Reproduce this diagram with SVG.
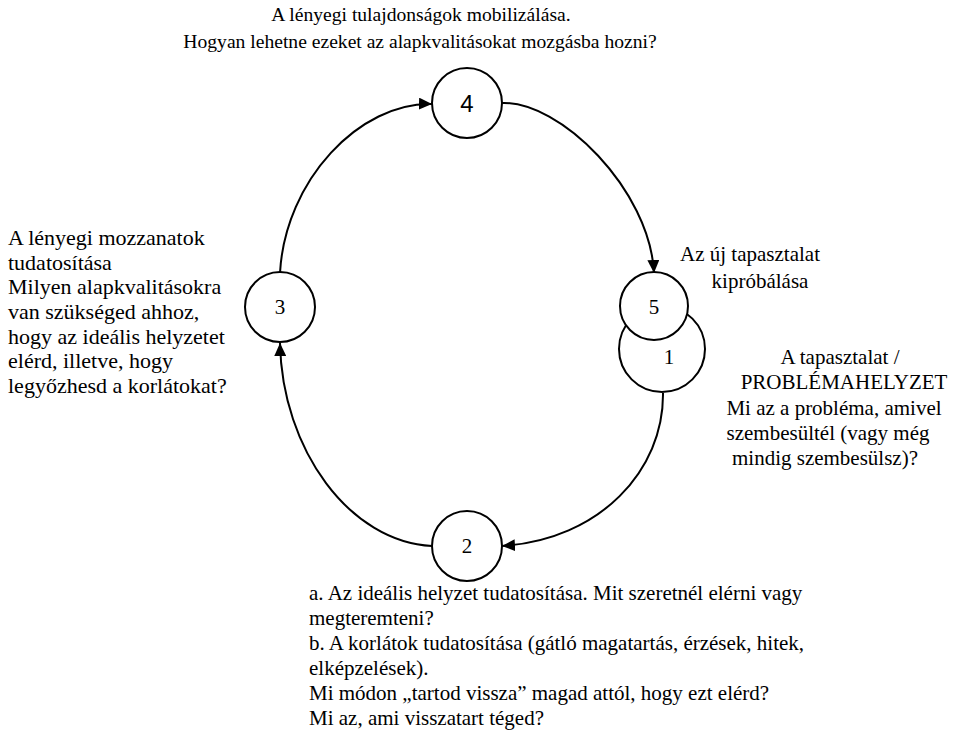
<svg xmlns="http://www.w3.org/2000/svg" width="953" height="736" viewBox="0 0 953 736">
<style>
text{font-family:'Liberation Serif','DejaVu Serif',serif;font-size:21px;fill:#000}
.c{text-anchor:middle}
.top{font-size:19.6px}
.lft{font-size:22px}
.rgt{font-size:21px}
.bot{font-size:21px}
.n{fill:#fff;stroke:#000;stroke-width:2}
.e{fill:none;stroke:#000;stroke-width:2}
.d{font-size:21px;text-anchor:middle}
</style>
<defs>
<marker id="ah" markerUnits="userSpaceOnUse" markerWidth="14" markerHeight="12" refX="13" refY="6" orient="auto">
<path d="M0,0 L13,6 L0,12 Z" fill="#000"/>
</marker>
</defs>
<rect width="953" height="736" fill="#fff"/>
<g id="connectors">
<path class="e" d="M501,103 C560,100 650,190 654,273" marker-end="url(#ah)"/>
<path class="e" d="M280,273 C285,180 360,102 432,104" marker-end="url(#ah)"/>
<path class="e" d="M432,546 C350,542 282,450 280,343" marker-end="url(#ah)"/>
<path class="e" d="M663,393 C664,470 600,540 502,546" marker-end="url(#ah)"/>
</g>
<g id="node1">
<circle class="n" cx="662" cy="349" r="43"/>
<text class="d" x="669" y="364">1</text>
</g>
<g id="node5">
<circle class="n" cx="654" cy="306" r="34"/>
<text class="d" x="654" y="314">5</text>
</g>
<g id="node4">
<circle class="n" cx="467" cy="103" r="35"/>
<text x="467" y="112" style="font-family:'Liberation Sans',Arial,sans-serif;font-size:24px;text-anchor:middle">4</text>
</g>
<g id="node3">
<circle class="n" cx="280" cy="307" r="35"/>
<text class="d" x="280" y="314">3</text>
</g>
<g id="node2">
<circle class="n" cx="467" cy="546" r="35"/>
<text class="d" x="467" y="553">2</text>
</g>
<g id="label4">
<text class="c top" x="421" y="21">A lényegi tulajdonságok mobilizálása.</text>
<text class="c top" x="420" y="48">Hogyan lehetne ezeket az alapkvalitásokat mozgásba hozni?</text>
</g>
<g id="label3">
<text class="lft" x="8" y="245">A lényegi mozzanatok</text>
<text class="lft" x="8" y="270">tudatosítása</text>
<text class="lft" x="8" y="294">Milyen alapkvalitásokra</text>
<text class="lft" x="8" y="319">van szükséged ahhoz,</text>
<text class="lft" x="8" y="344">hogy az ideális helyzetet</text>
<text class="lft" x="8" y="368">elérd, illetve, hogy</text>
<text class="lft" x="8" y="393">legyőzhesd a korlátokat?</text>
</g>
<g id="label5">
<text class="c rgt" x="750" y="261">Az új tapasztalat</text>
<text class="c rgt" x="760" y="288">kipróbálása</text>
</g>
<g id="label1">
<text class="c rgt" x="840" y="364">A tapasztalat /</text>
<text class="c rgt" x="844" y="389">PROBLÉMAHELYZET</text>
<text class="c rgt" x="834" y="415">Mi az a probléma, amivel</text>
<text class="c rgt" x="828" y="440">szembesültél (vagy még</text>
<text class="c rgt" x="825" y="465">mindig szembesülsz)?</text>
</g>
<g id="label2">
<text class="bot" x="309" y="600">a. Az ideális helyzet tudatosítása. Mit szeretnél elérni vagy</text>
<text class="bot" x="309" y="625">megteremteni?</text>
<text class="bot" x="309" y="650">b. A korlátok tudatosítása (gátló magatartás, érzések, hitek,</text>
<text class="bot" x="309" y="675">elképzelések).</text>
<text class="bot" x="309" y="700">Mi módon „tartod vissza” magad attól, hogy ezt elérd?</text>
<text class="bot" x="309" y="725">Mi az, ami visszatart téged?</text>
</g>
</svg>
